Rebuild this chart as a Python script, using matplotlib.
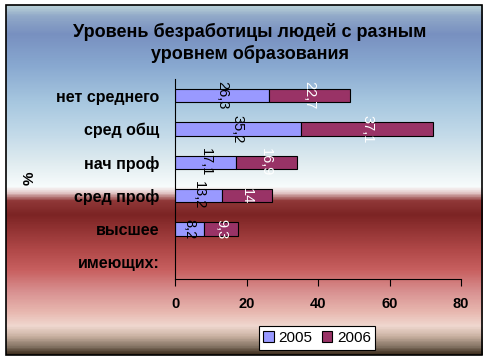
import numpy as np
import matplotlib
matplotlib.use("Agg")
import matplotlib.pyplot as plt
from matplotlib.colors import LinearSegmentedColormap
from matplotlib.patches import Rectangle

plt.rcParams['font.family'] = ['Liberation Sans', 'DejaVu Sans']

title = "Уровень безработицы людей с разным\nуровнем образования"
categories = ["нет среднего", "сред общ", "нач проф", "сред проф", "высшее", "имеющих:"]
series_names = ["2005", "2006"]
values_2005 = [26.3, 35.2, 17.1, 13.2, 8.2, np.nan]
values_2006 = [22.7, 37.1, 16.9, 14.0, 9.3, np.nan]
labels_2005 = ["26,3", "35,2", "17,1", "13,2", "8,2", ""]
labels_2006 = ["22,7", "37,1", "16,9", "14", "9,3", ""]
x_ticks = [0, 20, 40, 60, 80]
y_label = "%"

W, H = 490, 362
fig = plt.figure(figsize=(W / 100, H / 100), dpi=100)

# background gradient (chart area fill)
stops = [
    (0.00, "#b8d0d8"), (0.03, "#90a8c8"), (0.08, "#7890c0"), (0.17, "#88a8d0"),
    (0.28, "#a8c8e0"), (0.36, "#c0d8e8"), (0.45, "#e0ecf0"), (0.52, "#f8fcfc"),
    (0.535, "#e8d0d0"), (0.56, "#903838"), (0.60, "#7c2424"), (0.70, "#b04848"),
    (0.76, "#c86060"), (0.82, "#d89090"), (0.88, "#e8b8b0"), (0.92, "#f0d8d0"),
    (0.95, "#c8b0a0"), (0.98, "#807060"), (1.00, "#403020"),
]
cmap = LinearSegmentedColormap.from_list("bg", stops)
bg = fig.add_axes([0, 0, 1, 1], zorder=-1)
bg.set_xlim(0, W)
bg.set_ylim(H, 0)
bg.axis("off")
x0, y0, x1, y1 = 6, 5, 482, 355
grad = np.linspace(0, 1, 400).reshape(-1, 1)
bg.imshow(grad, cmap=cmap, aspect="auto", extent=(x0, x1, y1, y0), interpolation="bilinear")
bg.add_patch(Rectangle((x0, y0), x1 - x0, y1 - y0, fill=False, edgecolor="black", lw=1.2))

ax = fig.add_axes([175 / W, 1 - 279 / H, (461 - 175) / W, 200 / H])
ax.set_facecolor("none")
pos = np.arange(len(categories))
v05 = np.array(values_2005)
v06 = np.array(values_2006)
h = 0.4
b1 = ax.barh(pos, v05, height=h, color="#9999ff", edgecolor="black", lw=0.8, label=series_names[0])
b2 = ax.barh(pos, v06, left=v05, height=h, color="#993366", edgecolor="black", lw=0.8, label=series_names[1])
for i in range(len(categories)):
    if labels_2005[i]:
        ax.text(v05[i] / 2, pos[i], labels_2005[i], rotation=-90, ha="center", va="center",
                fontsize=10.5, color="black")
    if labels_2006[i]:
        ax.text(v05[i] + v06[i] / 2, pos[i], labels_2006[i], rotation=-90, ha="center", va="center",
                fontsize=10.5, color="white")

ax.set_xlim(0, 80)
ax.set_ylim(len(categories) - 0.5, -0.5)
ax.set_xticks(x_ticks)
ax.set_xticklabels([str(t) for t in x_ticks], fontsize=10.5, fontweight="bold")
ax.set_yticks(pos)
ax.set_yticklabels(categories, fontsize=11.5, fontweight="bold")
ax.tick_params(axis="y", length=0, pad=11)
ax.tick_params(axis="x", length=5, direction="out", pad=8, width=0.8)
for s in ["top", "right"]:
    ax.spines[s].set_visible(False)
for s in ["left", "bottom"]:
    ax.spines[s].set_linewidth(0.8)

fig.text(30 / W, 1 - 178 / H, y_label, rotation=90, ha="center", va="center",
         fontsize=11, fontweight="bold")
fig.text(250 / W, 1 - 43 / H, title, ha="center", va="center", fontsize=13,
         fontweight="bold", linespacing=1.3)

leg = fig.legend(handles=[b1, b2], loc="center", bbox_to_anchor=(317 / W, 1 - 338 / H),
                 ncol=2, fontsize=11, frameon=True, fancybox=False, edgecolor="black",
                 framealpha=1, handlelength=0.7, handleheight=0.7, handletextpad=0.3,
                 columnspacing=0.6, borderpad=0.3, borderaxespad=0)
leg.get_frame().set_linewidth(0.8)

fig.savefig("out.png", dpi=100)
